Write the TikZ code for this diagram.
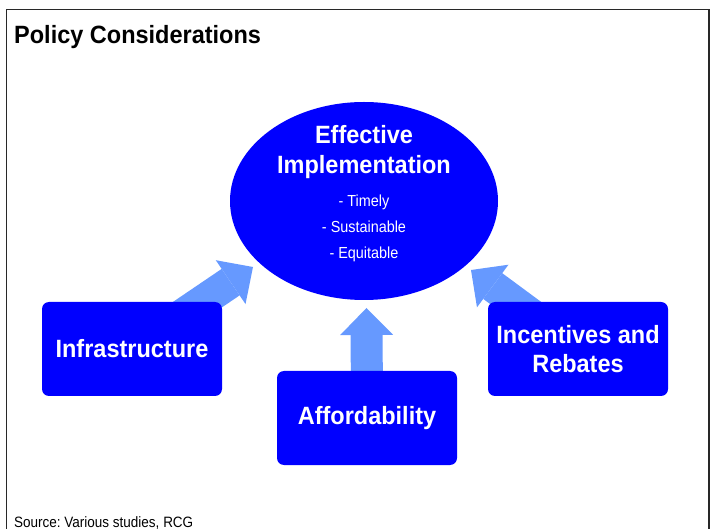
\documentclass[tikz,border=0pt]{standalone}
\usepackage{fontspec}
\setmainfont{Liberation Sans}
\newfontfamily\condfont[FakeStretch=0.9]{Liberation Sans}
\newfontfamily\condbold[FakeStretch=0.94]{Liberation Sans}
\usetikzlibrary{shapes.geometric,arrows.meta}
\frenchspacing
\definecolor{blue0}{RGB}{0,0,255}
\definecolor{arrowblue}{RGB}{102,153,255}
\definecolor{framegray}{RGB}{40,40,40}
\pgfdeclarelayer{background}
\pgfsetlayers{background,main}
\tikzset{
  boxnode/.style={rectangle, rounded corners=7pt, fill=blue0, minimum width=180pt, minimum height=94pt, inner sep=0pt, text=white, align=center, font=\condbold\bfseries\fontsize{25}{29}\selectfont},
  bigtext/.style={anchor=base, text=white, inner sep=0pt, font=\condbold\bfseries\fontsize{25}{30}\selectfont},
  smalltext/.style={anchor=base, text=white, inner sep=0pt, font=\condfont\fontsize{16}{19}\selectfont},
  blockarrow/.style={draw=arrowblue, line width=32pt, -{Triangle[length=27pt,width=53pt,line width=0pt,fill=arrowblue]}}
}
\begin{document}
\begin{tikzpicture}[x=1pt,y=-1pt]
\useasboundingbox (0,0) rectangle (710,529);
\begin{scope}
\clip (0,0) rectangle (710,529);
\draw[framegray, line width=1.2pt] (6.5,9.5) rectangle (709,560);
\end{scope}
\node[anchor=base west, inner sep=0pt, font=\condbold\bfseries\fontsize{25}{30}\selectfont] (title) at (14,43.5) {Policy Considerations};
\node[ellipse, fill=blue0, minimum width=268pt, minimum height=198pt, inner sep=0pt] (impl) at (364,201) {};
\node[bigtext] (eff1) at (364,143.3) {Effective};
\node[bigtext] (eff2) at (364,173.3) {Implementation};
\node[smalltext] (b1) at (364,206.5) {- Timely};
\node[smalltext] (b2) at (364,233) {- Sustainable};
\node[smalltext] (b3) at (364,259) {- Equitable};
\node[boxnode] (infra) at (132,349) {Infrastructure};
\node[boxnode] (afford) at (367,418) {Affordability};
\node[boxnode] (incent) at (578,349) {Incentives and\\Rebates};
\coordinate (tipL) at (253,267);
\coordinate (tipR) at (471,270);
\coordinate (tipU) at (366.5,308);
\begin{pgfonlayer}{background}
\draw[blockarrow] (infra.center) -- (tipL);
\draw[blockarrow] (incent.center) -- (tipR);
\draw[blockarrow] (afford.center) -- (tipU);
\end{pgfonlayer}
\node[anchor=base west, inner sep=0pt, font=\condfont\fontsize{15}{18}\selectfont] (src) at (14,527) {Source: Various studies, RCG};
\end{tikzpicture}
\end{document}
